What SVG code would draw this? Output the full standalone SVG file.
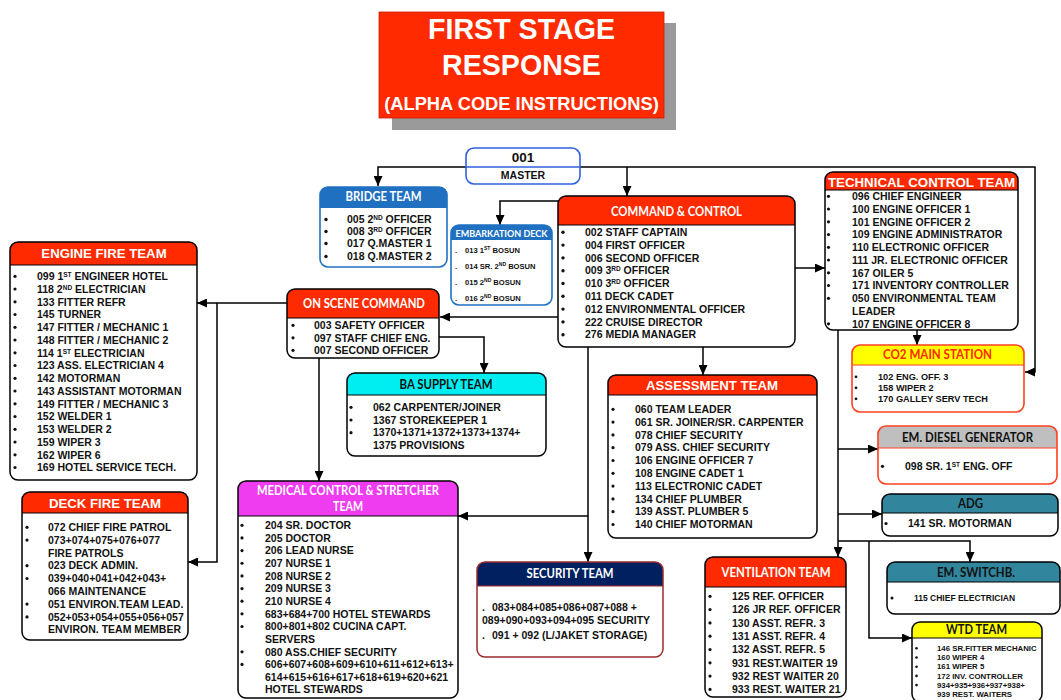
<svg xmlns="http://www.w3.org/2000/svg" width="1061" height="700" viewBox="0 0 1061 700">
<style>
.body{fill:#fff}
.fr{fill:none;stroke:#000;stroke-width:1.5}
.frb{fill:none;stroke:#1f70c1;stroke-width:1.6}
.frr{fill:none;stroke:#ff4020;stroke-width:1.6}
.frd{fill:none;stroke:#9b2b2b;stroke-width:1.5}
.hl{stroke:#000;stroke-width:1.2}
.red{fill:#ff2a00}
.it{font:bold 10.5px "Liberation Sans",Arial,sans-serif;fill:#111}
.its{font:bold 7.6px "Liberation Sans",Arial,sans-serif;fill:#111}
.itc{font:bold 9.2px "Liberation Sans",Arial,sans-serif;fill:#111}
.itw{font:bold 7.8px "Liberation Sans",Arial,sans-serif;fill:#111}
.ite{font:bold 8.5px "Liberation Sans",Arial,sans-serif;fill:#111}
.sup{font-size:6.5px}
.sups{font-size:5px}
.ha{font:bold 13.2px "Liberation Sans",Arial,sans-serif;fill:#fff;text-anchor:middle}
.hc{font:bold 12.5px Lato,"Liberation Sans",sans-serif;fill:#fff;text-anchor:middle}
.hk{font:bold 13px Lato,"Liberation Sans",sans-serif;fill:#111;text-anchor:middle}
.b{fill:#111}
.cn{fill:none;stroke:#000;stroke-width:1.5}
.tt{font:bold 28.6px "Liberation Sans",Arial,sans-serif;fill:#fff;text-anchor:middle}
</style>
<defs>
<marker id="ah" markerUnits="userSpaceOnUse" markerWidth="10" markerHeight="9" refX="10" refY="4.5" orient="auto">
<path d="M0,0 L10,4.5 L0,9 Z" fill="#000"/>
</marker>
</defs>

<g id="title">
<rect x="392" y="23" width="284" height="107" fill="#9a9a9a"/>
<rect x="379" y="12" width="285" height="106" fill="#ff2a00" stroke="#c81e00" stroke-width="0.8"/>
<text class="tt" x="521.5" y="39">FIRST STAGE</text>
<text class="tt" x="521.5" y="75">RESPONSE</text>
<text class="tt" x="521.5" y="110" style="font-size:18.3px">(ALPHA CODE INSTRUCTIONS)</text>
</g>

<g id="connectors">
<path class="cn" d="M466,167 H378 V186" marker-end="url(#ah)"/>
<path class="cn" d="M580,167 H1035 V372 H1025" marker-end="url(#ah)"/>
<path class="cn" d="M627,167 V196" marker-end="url(#ah)"/>
<path class="cn" d="M558,201 H500 V225" marker-end="url(#ah)"/>
<path class="cn" d="M795,268 H825" marker-end="url(#ah)"/>
<path class="cn" d="M558,317 H440" marker-end="url(#ah)"/>
<path class="cn" d="M703,347 V375" marker-end="url(#ah)"/>
<path class="cn" d="M588,347 V562" marker-end="url(#ah)"/>
<path class="cn" d="M588,516 H458" marker-end="url(#ah)"/>
<path class="cn" d="M287,303 H197" marker-end="url(#ah)"/>
<path class="cn" d="M217,303 V562 H188" marker-end="url(#ah)"/>
<path class="cn" d="M319,358 V481" marker-end="url(#ah)"/>
<path class="cn" d="M439,337 H484 V373" marker-end="url(#ah)"/>
<path class="cn" d="M917,330 V345" marker-end="url(#ah)"/>
<path class="cn" d="M838,330 V557" marker-end="url(#ah)"/>
<path class="cn" d="M838,449 H878" marker-end="url(#ah)"/>
<path class="cn" d="M838,514 H882" marker-end="url(#ah)"/>
<path class="cn" d="M838,541 H970 V562" marker-end="url(#ah)"/>
<path class="cn" d="M869,541 V638 H912" marker-end="url(#ah)"/>
</g>

<g id="master">
<rect class="body" x="466" y="148" width="114" height="36" rx="8"/>
<line x1="466" y1="167" x2="580" y2="167" stroke="#3060e0" stroke-width="1.4"/>
<rect x="466" y="148" width="114" height="36" rx="8" fill="none" stroke="#3060e0" stroke-width="1.6"/>
<text x="523" y="162" style="font:bold 13.5px 'Liberation Sans',Arial,sans-serif;text-anchor:middle;fill:#111">001</text>
<text x="523" y="179" style="font:bold 10.5px 'Liberation Sans',Arial,sans-serif;text-anchor:middle;fill:#111">MASTER</text>
</g>

<g id="bridge">
<rect class="body" x="320" y="187" width="127" height="80" rx="8"/>
<path d="M320,208 V195 A8,8 0 0 1 328,187 H439 A8,8 0 0 1 447,195 V208 Z" fill="#1f70c1"/>
<rect class="frb" x="320" y="187" width="127" height="80" rx="8"/>
<text class="hc" x="383.5" y="201" textLength="76" lengthAdjust="spacingAndGlyphs">BRIDGE TEAM</text>
<circle class="b" cx="326" cy="219.5" r="1.7"/><circle class="b" cx="326" cy="231.5" r="1.7"/><circle class="b" cx="326" cy="243.5" r="1.7"/><circle class="b" cx="326" cy="256.5" r="1.7"/>
<text class="it" x="347" y="223">005 2<tspan class="sup" baseline-shift="super">ND</tspan> OFFICER</text>
<text class="it" x="347" y="235">008 3<tspan class="sup" baseline-shift="super">RD</tspan> OFFICER</text>
<text class="it" x="347" y="247">017 Q.MASTER 1</text>
<text class="it" x="347" y="260">018 Q.MASTER 2</text>
</g>

<g id="embarkation">
<rect class="body" x="451" y="225" width="101" height="80" rx="8"/>
<path d="M451,240 V233 A8,8 0 0 1 459,225 H544 A8,8 0 0 1 552,233 V240 Z" fill="#1f70c1"/>
<rect class="frb" x="451" y="225" width="101" height="80" rx="8"/>
<text class="hc" x="501.5" y="237" style="font-size:10px" textLength="92" lengthAdjust="spacingAndGlyphs">EMBARKATION DECK</text>
<text class="its" x="455" y="253">.</text><text class="its" x="465" y="253">013 1<tspan class="sups" baseline-shift="super">ST</tspan> BOSUN</text>
<text class="its" x="455" y="269">.</text><text class="its" x="465" y="269">014 SR. 2<tspan class="sups" baseline-shift="super">ND</tspan> BOSUN</text>
<text class="its" x="455" y="285">.</text><text class="its" x="465" y="285">015 2<tspan class="sups" baseline-shift="super">ND</tspan> BOSUN</text>
<text class="its" x="455" y="301">.</text><text class="its" x="465" y="301">016 2<tspan class="sups" baseline-shift="super">ND</tspan> BOSUN</text>
</g>

<g id="command">
<rect class="body" x="558" y="196" width="237" height="151" rx="8"/>
<path class="red" d="M558,225 V204 A8,8 0 0 1 566,196 H787 A8,8 0 0 1 795,204 V225 Z"/>
<line class="hl" x1="558" y1="225" x2="795" y2="225"/>
<rect class="fr" x="558" y="196" width="237" height="151" rx="8"/>
<text class="hc" x="676.5" y="216" textLength="131" lengthAdjust="spacingAndGlyphs">COMMAND &amp; CONTROL</text>
<g class="b"><circle cx="563" cy="232.3" r="1.7"/><circle cx="563" cy="245.1" r="1.7"/><circle cx="563" cy="257.9" r="1.7"/><circle cx="563" cy="270.7" r="1.7"/><circle cx="563" cy="283.5" r="1.7"/><circle cx="563" cy="296.3" r="1.7"/><circle cx="563" cy="309.1" r="1.7"/><circle cx="563" cy="321.9" r="1.7"/><circle cx="563" cy="334.7" r="1.7"/></g>
<text class="it" x="585" y="236">002 STAFF CAPTAIN</text>
<text class="it" x="585" y="248.8">004 FIRST OFFICER</text>
<text class="it" x="585" y="261.6">006 SECOND OFFICER</text>
<text class="it" x="585" y="274.4">009 3<tspan class="sup" baseline-shift="super">RD</tspan> OFFICER</text>
<text class="it" x="585" y="287.2">010 3<tspan class="sup" baseline-shift="super">RD</tspan> OFFICER</text>
<text class="it" x="585" y="300">011 DECK CADET</text>
<text class="it" x="585" y="312.8">012 ENVIRONMENTAL OFFICER</text>
<text class="it" x="585" y="325.6">222 CRUISE DIRECTOR</text>
<text class="it" x="585" y="338.4">276 MEDIA MANAGER</text>
</g>

<g id="technical">
<rect class="body" x="825" y="172" width="193" height="158" rx="8"/>
<path class="red" d="M825,190 V180 A8,8 0 0 1 833,172 H1010 A8,8 0 0 1 1018,180 V190 Z"/>
<line class="hl" x1="825" y1="190" x2="1018" y2="190"/>
<rect class="fr" x="825" y="172" width="193" height="158" rx="8"/>
<text class="ha" x="921.5" y="187" style="font-size:13.3px">TECHNICAL CONTROL TEAM</text>
<g class="b"><circle cx="828.5" cy="196.3" r="1.6"/><circle cx="828.5" cy="209" r="1.6"/><circle cx="828.5" cy="221.8" r="1.6"/><circle cx="828.5" cy="234.5" r="1.6"/><circle cx="828.5" cy="247.3" r="1.6"/><circle cx="828.5" cy="260" r="1.6"/><circle cx="828.5" cy="272.8" r="1.6"/><circle cx="828.5" cy="285.5" r="1.6"/><circle cx="828.5" cy="298.3" r="1.6"/><circle cx="828.5" cy="323.8" r="1.6"/></g>
<text class="it" x="852" y="200">096 CHIEF ENGINEER</text>
<text class="it" x="852" y="212.75">100 ENGINE OFFICER 1</text>
<text class="it" x="852" y="225.5">101 ENGINE OFFICER 2</text>
<text class="it" x="852" y="238.25">109 ENGINE ADMINISTRATOR</text>
<text class="it" x="852" y="251">110 ELECTRONIC OFFICER</text>
<text class="it" x="852" y="263.75">111 JR. ELECTRONIC OFFICER</text>
<text class="it" x="852" y="276.5">167 OILER 5</text>
<text class="it" x="852" y="289.25">171 INVENTORY CONTROLLER</text>
<text class="it" x="852" y="302">050 ENVIRONMENTAL TEAM</text>
<text class="it" x="852" y="314.75">LEADER</text>
<text class="it" x="852" y="327.5">107 ENGINE OFFICER 8</text>
</g>

<g id="engine-fire">
<rect class="body" x="10" y="242" width="187" height="238" rx="8"/>
<path class="red" d="M10,265 V250 A8,8 0 0 1 18,242 H189 A8,8 0 0 1 197,250 V265 Z"/>
<line class="hl" x1="10" y1="265" x2="197" y2="265"/>
<rect class="fr" x="10" y="242" width="187" height="238" rx="8"/>
<text class="ha" x="104" y="258">ENGINE FIRE TEAM</text>
<g class="b"><circle cx="15" cy="276.3" r="1.6"/><circle cx="15" cy="289" r="1.6"/><circle cx="15" cy="301.8" r="1.6"/><circle cx="15" cy="314.5" r="1.6"/><circle cx="15" cy="327.3" r="1.6"/><circle cx="15" cy="340" r="1.6"/><circle cx="15" cy="352.8" r="1.6"/><circle cx="15" cy="365.5" r="1.6"/><circle cx="15" cy="378.3" r="1.6"/><circle cx="15" cy="391" r="1.6"/><circle cx="15" cy="403.8" r="1.6"/><circle cx="15" cy="416.5" r="1.6"/><circle cx="15" cy="429.3" r="1.6"/><circle cx="15" cy="442" r="1.6"/><circle cx="15" cy="454.8" r="1.6"/><circle cx="15" cy="467.5" r="1.6"/></g>
<text class="it" x="37" y="280">099 1<tspan class="sup" baseline-shift="super">ST</tspan> ENGINEER HOTEL</text>
<text class="it" x="37" y="292.75">118 2<tspan class="sup" baseline-shift="super">ND</tspan> ELECTRICIAN</text>
<text class="it" x="37" y="305.5">133 FITTER REFR</text>
<text class="it" x="37" y="318.25">145 TURNER</text>
<text class="it" x="37" y="331">147 FITTER / MECHANIC 1</text>
<text class="it" x="37" y="343.75">148 FITTER / MECHANIC 2</text>
<text class="it" x="37" y="356.5">114 1<tspan class="sup" baseline-shift="super">ST</tspan> ELECTRICIAN</text>
<text class="it" x="37" y="369.25">123 ASS. ELECTRICIAN 4</text>
<text class="it" x="37" y="382">142 MOTORMAN</text>
<text class="it" x="37" y="394.75">143 ASSISTANT MOTORMAN</text>
<text class="it" x="37" y="407.5">149 FITTER / MECHANIC 3</text>
<text class="it" x="37" y="420.25">152 WELDER 1</text>
<text class="it" x="37" y="433">153 WELDER 2</text>
<text class="it" x="37" y="445.75">159 WIPER 3</text>
<text class="it" x="37" y="458.5">162 WIPER 6</text>
<text class="it" x="37" y="471.25">169 HOTEL SERVICE TECH.</text>
</g>

<g id="on-scene">
<rect class="body" x="287" y="289" width="152" height="69" rx="8"/>
<path class="red" d="M287,318 V297 A8,8 0 0 1 295,289 H431 A8,8 0 0 1 439,297 V318 Z"/>
<line class="hl" x1="287" y1="318" x2="439" y2="318"/>
<rect class="fr" x="287" y="289" width="152" height="69" rx="8"/>
<text class="hc" x="364" y="308" textLength="122" lengthAdjust="spacingAndGlyphs">ON SCENE COMMAND</text>
<g class="b"><circle cx="293" cy="325.3" r="1.6"/><circle cx="293" cy="337.8" r="1.6"/><circle cx="293" cy="350.3" r="1.6"/></g>
<text class="it" x="314" y="329">003 SAFETY OFFICER</text>
<text class="it" x="314" y="341.5">097 STAFF CHIEF ENG.</text>
<text class="it" x="314" y="354">007 SECOND OFFICER</text>
</g>

<g id="ba-supply">
<rect class="body" x="347" y="373" width="199" height="83" rx="8"/>
<path d="M347,395 V381 A8,8 0 0 1 355,373 H538 A8,8 0 0 1 546,381 V395 Z" fill="#00eef2"/>
<line class="hl" x1="347" y1="395" x2="546" y2="395"/>
<rect class="fr" x="347" y="373" width="199" height="83" rx="8"/>
<text class="hc" x="446" y="389" style="fill:#111" textLength="93" lengthAdjust="spacingAndGlyphs">BA SUPPLY TEAM</text>
<g class="b"><circle cx="351" cy="407.3" r="1.6"/><circle cx="351" cy="420" r="1.6"/><circle cx="351" cy="432.7" r="1.6"/></g>
<text class="it" x="373" y="411">062 CARPENTER/JOINER</text>
<text class="it" x="373" y="423.7">1367 STOREKEEPER 1</text>
<text class="it" x="373" y="436.4">1370+1371+1372+1373+1374+</text>
<text class="it" x="373" y="449">1375 PROVISIONS</text>
</g>

<g id="assessment">
<rect class="body" x="608" y="375" width="209" height="163" rx="8"/>
<path class="red" d="M608,395 V383 A8,8 0 0 1 616,375 H809 A8,8 0 0 1 817,383 V395 Z"/>
<line class="hl" x1="608" y1="395" x2="817" y2="395"/>
<rect class="fr" x="608" y="375" width="209" height="163" rx="8"/>
<text class="ha" x="712" y="390">ASSESSMENT TEAM</text>
<g class="b"><circle cx="613" cy="409.3" r="1.6"/><circle cx="613" cy="422.1" r="1.6"/><circle cx="613" cy="434.9" r="1.6"/><circle cx="613" cy="447.7" r="1.6"/><circle cx="613" cy="460.5" r="1.6"/><circle cx="613" cy="473.3" r="1.6"/><circle cx="613" cy="486.1" r="1.6"/><circle cx="613" cy="498.9" r="1.6"/><circle cx="613" cy="511.7" r="1.6"/><circle cx="613" cy="524.5" r="1.6"/></g>
<text class="it" x="635" y="413">060 TEAM LEADER</text>
<text class="it" x="635" y="425.8">061 SR. JOINER/SR. CARPENTER</text>
<text class="it" x="635" y="438.6">078 CHIEF SECURITY</text>
<text class="it" x="635" y="451.4">079 ASS. CHIEF SECURITY</text>
<text class="it" x="635" y="464.2">106 ENGINE OFFICER 7</text>
<text class="it" x="635" y="477">108 ENGINE CADET 1</text>
<text class="it" x="635" y="489.8">113 ELECTRONIC CADET</text>
<text class="it" x="635" y="502.6">134 CHIEF PLUMBER</text>
<text class="it" x="635" y="515.4">139 ASST. PLUMBER 5</text>
<text class="it" x="635" y="528.2">140 CHIEF MOTORMAN</text>
</g>

<g id="co2">
<rect class="body" x="852" y="345" width="172" height="67" rx="8"/>
<path d="M852,365 V353 A8,8 0 0 1 860,345 H1016 A8,8 0 0 1 1024,353 V365 Z" fill="#ffff00"/>
<line x1="852" y1="365" x2="1024" y2="365" stroke="#ff4020" stroke-width="1.2"/>
<rect class="frr" x="852" y="345" width="172" height="67" rx="8"/>
<text class="hc" x="937.5" y="359" style="fill:#ff2a00" textLength="109" lengthAdjust="spacingAndGlyphs">CO2 MAIN STATION</text>
<g class="b"><circle cx="856" cy="376.8" r="1.4"/><circle cx="856" cy="387.8" r="1.4"/><circle cx="856" cy="398.8" r="1.4"/></g>
<text class="itc" x="878" y="380">102 ENG. OFF. 3</text>
<text class="itc" x="878" y="391">158 WIPER 2</text>
<text class="itc" x="878" y="402">170 GALLEY SERV TECH</text>
</g>

<g id="em-diesel">
<rect class="body" x="878" y="426" width="179" height="58" rx="8"/>
<path d="M878,448 V434 A8,8 0 0 1 886,426 H1049 A8,8 0 0 1 1057,434 V448 Z" fill="#bfbfbf"/>
<line x1="878" y1="448" x2="1057" y2="448" stroke="#ff4020" stroke-width="1.2"/>
<rect class="frr" x="878" y="426" width="179" height="58" rx="8"/>
<text class="hk" x="967.5" y="442" textLength="131" lengthAdjust="spacingAndGlyphs">EM. DIESEL GENERATOR</text>
<circle class="b" cx="882.5" cy="466.3" r="1.6"/>
<text class="it" x="905" y="470">098 SR. 1<tspan class="sup" baseline-shift="super">ST</tspan> ENG. OFF</text>
</g>

<g id="adg">
<rect class="body" x="882" y="494" width="176" height="42" rx="8"/>
<path d="M882,513 V502 A8,8 0 0 1 890,494 H1050 A8,8 0 0 1 1058,502 V513 Z" fill="#31859c"/>
<line class="hl" x1="882" y1="513" x2="1058" y2="513"/>
<rect class="fr" x="882" y="494" width="176" height="42" rx="8"/>
<text class="hk" x="970.5" y="508" textLength="25" lengthAdjust="spacingAndGlyphs">ADG</text>
<circle class="b" cx="886" cy="523.5" r="1.6"/>
<text class="it" x="908" y="527">141 SR. MOTORMAN</text>
</g>

<g id="deck-fire">
<rect class="body" x="22" y="492" width="166" height="148" rx="8"/>
<path class="red" d="M22,513 V500 A8,8 0 0 1 30,492 H180 A8,8 0 0 1 188,500 V513 Z"/>
<line class="hl" x1="22" y1="513" x2="188" y2="513"/>
<rect class="fr" x="22" y="492" width="166" height="148" rx="8"/>
<text class="ha" x="105" y="508">DECK FIRE TEAM</text>
<g class="b"><circle cx="27" cy="527.3" r="1.6"/><circle cx="27" cy="540.1" r="1.6"/><circle cx="27" cy="565.7" r="1.6"/><circle cx="27" cy="578.5" r="1.6"/><circle cx="27" cy="604.1" r="1.6"/><circle cx="27" cy="616.9" r="1.6"/></g>
<text class="it" x="48" y="531">072 CHIEF FIRE PATROL</text>
<text class="it" x="48" y="543.8">073+074+075+076+077</text>
<text class="it" x="48" y="556.6">FIRE PATROLS</text>
<text class="it" x="48" y="569.4">023 DECK ADMIN.</text>
<text class="it" x="48" y="582.2">039+040+041+042+043+</text>
<text class="it" x="48" y="595">066 MAINTENANCE</text>
<text class="it" x="48" y="607.8">051 ENVIRON.TEAM LEAD.</text>
<text class="it" x="48" y="620.6">052+053+054+055+056+057</text>
<text class="it" x="48" y="633.4">ENVIRON. TEAM MEMBER</text>
</g>

<g id="medical">
<rect class="body" x="238" y="481" width="220" height="217" rx="8"/>
<path d="M238,516 V489 A8,8 0 0 1 246,481 H450 A8,8 0 0 1 458,489 V516 Z" fill="#f03cf0"/>
<line class="hl" x1="238" y1="516" x2="458" y2="516"/>
<rect class="fr" x="238" y="481" width="220" height="217" rx="8"/>
<text class="hc" x="348" y="495" textLength="182" lengthAdjust="spacingAndGlyphs">MEDICAL CONTROL &amp; STRETCHER</text>
<text class="hc" x="348" y="511" textLength="30" lengthAdjust="spacingAndGlyphs">TEAM</text>
<g class="b"><circle cx="242" cy="525.3" r="1.6"/><circle cx="242" cy="537.95" r="1.6"/><circle cx="242" cy="550.6" r="1.6"/><circle cx="242" cy="563.25" r="1.6"/><circle cx="242" cy="575.9" r="1.6"/><circle cx="242" cy="588.55" r="1.6"/><circle cx="242" cy="601.2" r="1.6"/><circle cx="242" cy="613.85" r="1.6"/><circle cx="242" cy="626.5" r="1.6"/><circle cx="242" cy="651.8" r="1.6"/><circle cx="242" cy="664.45" r="1.6"/></g>
<text class="it" x="265" y="529">204 SR. DOCTOR</text>
<text class="it" x="265" y="541.65">205 DOCTOR</text>
<text class="it" x="265" y="554.3">206 LEAD NURSE</text>
<text class="it" x="265" y="566.95">207 NURSE 1</text>
<text class="it" x="265" y="579.6">208 NURSE 2</text>
<text class="it" x="265" y="592.25">209 NURSE 3</text>
<text class="it" x="265" y="604.9">210 NURSE 4</text>
<text class="it" x="265" y="617.55">683+684+700 HOTEL STEWARDS</text>
<text class="it" x="265" y="630.2">800+801+802 CUCINA CAPT.</text>
<text class="it" x="265" y="642.85">SERVERS</text>
<text class="it" x="265" y="655.5">080 ASS.CHIEF SECURITY</text>
<text class="it" x="265" y="668.15">606+607+608+609+610+611+612+613+</text>
<text class="it" x="265" y="680.8">614+615+616+617+618+619+620+621</text>
<text class="it" x="265" y="693.45">HOTEL STEWARDS</text>
</g>

<g id="security">
<rect class="body" x="477" y="562" width="186" height="95" rx="8"/>
<path d="M477,586 V570 A8,8 0 0 1 485,562 H655 A8,8 0 0 1 663,570 V586 Z" fill="#002060"/>
<line x1="477" y1="586" x2="663" y2="586" stroke="#9b2b2b" stroke-width="1.2"/>
<rect class="frd" x="477" y="562" width="186" height="95" rx="8"/>
<text class="hc" x="570" y="578" textLength="87" lengthAdjust="spacingAndGlyphs">SECURITY TEAM</text>
<text class="it" x="482" y="611">.</text><text class="it" x="492" y="611">083+084+085+086+087+088 +</text>
<text class="it" x="482" y="624">089+090+093+094+095 SECURITY</text>
<text class="it" x="482" y="639">.</text><text class="it" x="492" y="639">091 + 092 (L/JAKET STORAGE)</text>
</g>

<g id="ventilation">
<rect class="body" x="705" y="557" width="141" height="140" rx="8"/>
<path class="red" d="M705,587 V565 A8,8 0 0 1 713,557 H838 A8,8 0 0 1 846,565 V587 Z"/>
<line class="hl" x1="705" y1="587" x2="846" y2="587"/>
<rect class="fr" x="705" y="557" width="141" height="140" rx="8"/>
<text class="hc" x="776" y="577" textLength="109" lengthAdjust="spacingAndGlyphs">VENTILATION TEAM</text>
<g class="b"><circle cx="710" cy="596.3" r="1.6"/><circle cx="710" cy="609.6" r="1.6"/><circle cx="710" cy="622.9" r="1.6"/><circle cx="710" cy="636.2" r="1.6"/><circle cx="710" cy="649.5" r="1.6"/><circle cx="710" cy="662.8" r="1.6"/><circle cx="710" cy="676.1" r="1.6"/><circle cx="710" cy="689.4" r="1.6"/></g>
<text class="it" x="732" y="600">125 REF. OFFICER</text>
<text class="it" x="732" y="613.3">126 JR REF. OFFICER</text>
<text class="it" x="732" y="626.6">130 ASST. REFR. 3</text>
<text class="it" x="732" y="639.9">131 ASST. REFR. 4</text>
<text class="it" x="732" y="653.2">132 ASST. REFR. 5</text>
<text class="it" x="732" y="666.5">931 REST.WAITER 19</text>
<text class="it" x="732" y="679.8">932 REST WAITER 20</text>
<text class="it" x="732" y="693.1">933 REST. WAITER 21</text>
</g>

<g id="em-switchboard">
<rect class="body" x="887" y="562" width="173" height="52" rx="8"/>
<path d="M887,582 V570 A8,8 0 0 1 895,562 H1052 A8,8 0 0 1 1060,570 V582 Z" fill="#31859c"/>
<line class="hl" x1="887" y1="582" x2="1060" y2="582"/>
<rect class="fr" x="887" y="562" width="173" height="52" rx="8"/>
<text class="hk" x="976" y="577" textLength="78" lengthAdjust="spacingAndGlyphs">EM. SWITCHB.</text>
<circle class="b" cx="892" cy="598" r="1.5"/>
<text class="ite" x="914" y="601">115 CHIEF ELECTRICIAN</text>
</g>

<g id="wtd">
<rect class="body" x="912" y="622" width="130" height="80" rx="8"/>
<path d="M912,638 V630 A8,8 0 0 1 920,622 H1034 A8,8 0 0 1 1042,630 V638 Z" fill="#ffff00"/>
<line class="hl" x1="912" y1="638" x2="1042" y2="638"/>
<rect class="fr" x="912" y="622" width="130" height="80" rx="8"/>
<text class="hk" x="976.5" y="634" style="font-size:14px" textLength="61" lengthAdjust="spacingAndGlyphs">WTD TEAM</text>
<g class="b"><circle cx="916.5" cy="648.3" r="1.3"/><circle cx="916.5" cy="657.5" r="1.3"/><circle cx="916.5" cy="666.7" r="1.3"/><circle cx="916.5" cy="675.9" r="1.3"/><circle cx="916.5" cy="685.1" r="1.3"/></g>
<text class="itw" x="937" y="651">146 SR.FITTER MECHANIC</text>
<text class="itw" x="937" y="660.2">160 WIPER 4</text>
<text class="itw" x="937" y="669.4">161 WIPER 5</text>
<text class="itw" x="937" y="678.6">172 INV. CONTROLLER</text>
<text class="itw" x="937" y="687.8">934+935+936+937+938+</text>
<text class="itw" x="937" y="697">939 REST. WAITERS</text>
</g>
</svg>
